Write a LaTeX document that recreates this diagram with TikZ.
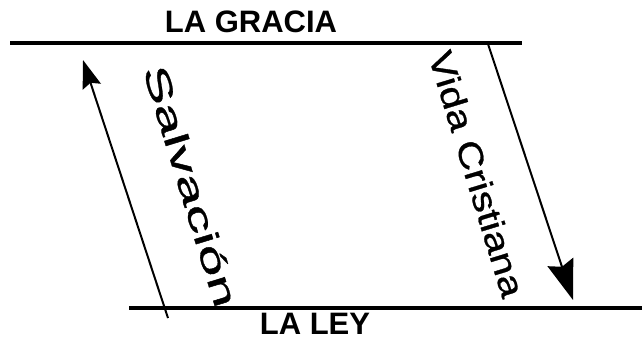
\documentclass[tikz,border=0pt]{standalone}
\usepackage{fontspec}
\setmainfont{Liberation Sans}
\newfontfamily\heavysans[FakeBold=0.8]{Liberation Sans}
\usetikzlibrary{arrows.meta}
\begin{document}
\begin{tikzpicture}[x=1pt,y=-1pt,
  rail/.style={line width=3.8pt},
  arr/.style={line width=2pt},
  title/.style={font=\fontsize{31}{31}\selectfont\bfseries, inner sep=0pt},
  lbl/.style={font=\heavysans\fontsize{34}{34}\selectfont, inner sep=0pt, rotate=-73}]
\useasboundingbox (0,0) rectangle (642,340);
\coordinate (gl) at (10,43); \coordinate (gr) at (522,43);
\coordinate (ll) at (129,308); \coordinate (lr) at (642,308);
\draw[rail] (gl) -- (gr);
\draw[rail] (ll) -- (lr);
\node[title] (gracia) at (251,22) {LA GRACIA};
\node[title] (ley) at (315,324) {LA LEY};
\coordinate (s0) at (168,318); \coordinate (s1) at (83,60);
\coordinate (v0) at (488,44); \coordinate (v1) at (573,300);
\draw[arr, -{Stealth[length=28pt,width=19pt,inset=4pt]}] (s0) -- (s1);
\draw[arr, -{Stealth[length=40pt,width=27pt,inset=5pt]}] (v0) -- (v1);
\node[lbl] (salv) at (191,186) {\scalebox{1.7}[1]{Salvación}};
\node[lbl] (vida) at (477,174) {\scalebox{1.21}[1]{Vida Cristiana}};
\end{tikzpicture}
\end{document}
